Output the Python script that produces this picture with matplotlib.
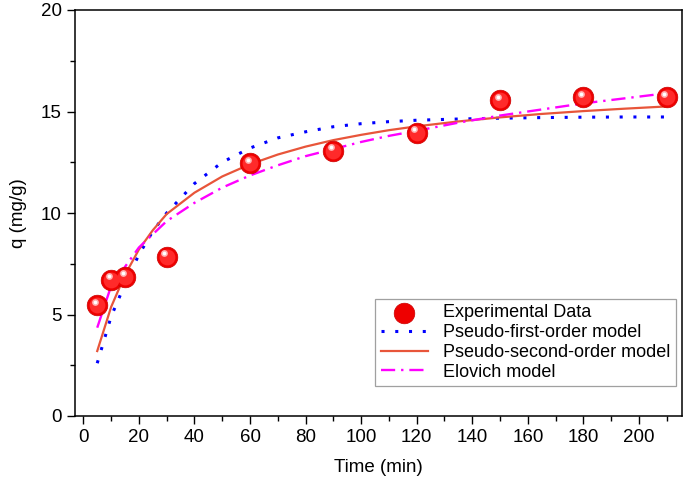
#Adsorption kinetics - experimental data and model fits
import numpy as np
import matplotlib.pyplot as plt

plt.rcParams['font.family'] = ['Liberation Sans', 'DejaVu Sans']

#Experimental points
t_exp = [5, 10, 15, 30, 60, 90, 120, 150, 180, 210]
q_exp = [5.45, 6.7, 6.85, 7.85, 12.45, 13.05, 13.95, 15.55, 15.7, 15.7]

#Model curves
t_fit = [5, 10, 15, 20, 25, 30, 40, 50, 60, 70, 80, 90, 100, 110, 120, 135, 150, 165, 180, 195, 210]
q_pfo = [2.6, 4.9, 6.5, 7.95, 9.1, 10.0, 11.45, 12.5, 13.2, 13.7, 14.0, 14.25, 14.4, 14.5, 14.57, 14.63, 14.67, 14.7, 14.72, 14.73, 14.73]
q_pso = [3.2, 5.37, 6.95, 8.2, 9.15, 9.95, 11.0, 11.8, 12.4, 12.88, 13.27, 13.59, 13.85, 14.08, 14.27, 14.51, 14.71, 14.88, 15.02, 15.14, 15.25]
q_elo = [4.35, 6.4, 7.35, 8.3, 8.95, 9.6, 10.5, 11.25, 11.85, 12.35, 12.8, 13.15, 13.5, 13.8, 14.05, 14.45, 14.8, 15.1, 15.4, 15.65, 15.9]

fig = plt.figure(figsize=(6.85, 4.8), dpi=100)
ax = fig.add_axes([75/685, 64/480, 607/685, 406/480])

ax.plot(t_fit, q_pfo, color='#0000ff', linestyle=(0, (1, 3.5)), lw=2.2, label='Pseudo-first-order model')
ax.plot(t_fit, q_pso, color='#e8553a', linestyle='-', lw=1.6, label='Pseudo-second-order model')
ax.plot(t_fit, q_elo, color='#ff00ff', linestyle=(0, (6, 2.5, 1, 2.5)), lw=1.7, label='Elovich model')

#red spheres - base plus a highlight
sc = ax.scatter(t_exp, q_exp, s=220, color='#ee0000', edgecolors='#cc0000', linewidths=0.5, zorder=5, label='Experimental Data')
ax.scatter(t_exp, q_exp, s=130, color='#ff2a2a', linewidths=0, zorder=6)
ax.scatter(np.array(t_exp) - 0.9, np.array(q_exp) + 0.18, s=24, color='#ffb0b0', linewidths=0, zorder=7)
ax.scatter(np.array(t_exp) - 0.9, np.array(q_exp) + 0.18, s=7, color='white', linewidths=0, zorder=8)

ax.set_xlim(-3, 215.5)
ax.set_ylim(0, 20)
ax.set_xticks(range(0, 201, 20))
ax.set_xticks(range(10, 215, 20), minor=True)
ax.set_yticks([0, 5, 10, 15, 20])
ax.set_yticks([2.5, 7.5, 12.5, 17.5], minor=True)
ax.tick_params(which='major', direction='out', length=6, width=1, labelsize=13.5)
ax.tick_params(which='minor', direction='out', length=3.5, width=1)
for s in ax.spines.values():
	s.set_linewidth(1.1)

ax.set_xlabel('Time (min)', fontsize=13.5, labelpad=9)
ax.set_ylabel('q (mg/g)', fontsize=13.5, labelpad=10)

h, l = ax.get_legend_handles_labels()
order = [3, 0, 1, 2]
leg = ax.legend([h[i] for i in order], [l[i] for i in order], loc='lower right',
	bbox_to_anchor=(0.99, 0.074), borderaxespad=0, fontsize=13, frameon=True, fancybox=False,
	edgecolor='#888888', handlelength=2.6, handletextpad=0.85, borderpad=0.3, labelspacing=0.15)
leg.get_frame().set_linewidth(0.9)

fig.savefig('out.png', dpi=100)
